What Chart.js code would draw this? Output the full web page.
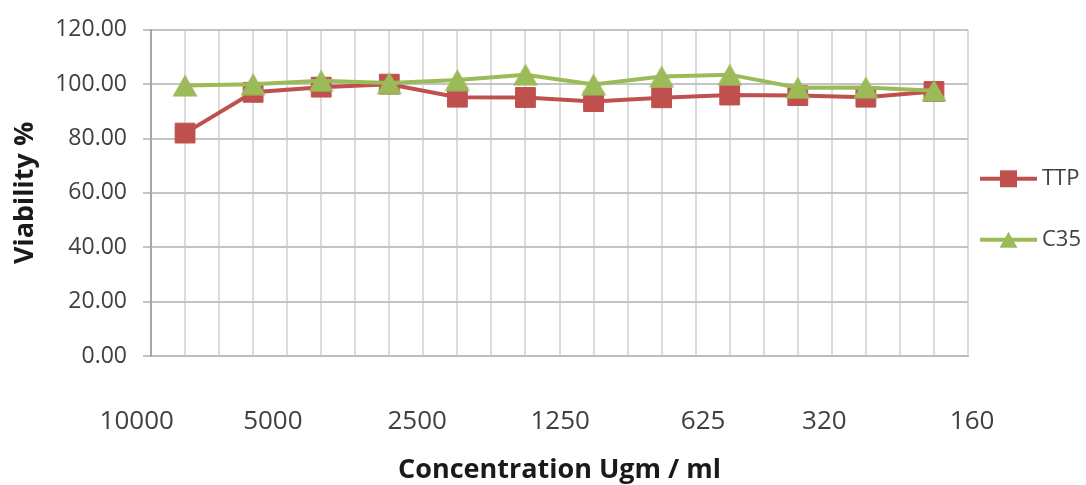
<!DOCTYPE html>
<html>
<head>
<meta charset="utf-8">
<script src="https://cdn.jsdelivr.net/npm/chart.js@4.4.1/dist/chart.umd.min.js"></script>
<style>
  html, body { margin: 0; padding: 0; background: #ffffff; }
  #wrap { width: 1086px; height: 485px; }
</style>
</head>
<body>
<div id="wrap"><canvas id="c" width="1086" height="485"></canvas></div>
<script>
// ---- data ----
const seriesNames = ['TTP', 'C35'];
const ttpValues = [82.0, 97.0, 98.9, 100.0, 95.2, 95.1, 93.6, 95.0, 96.0, 95.8, 95.2, 97.3];
const c35Values = [99.5, 100.0, 101.3, 100.4, 101.5, 103.5, 99.9, 102.8, 103.5, 98.7, 98.8, 97.6];
const xTickLabels = ['10000', '5000', '2500', '1250', '625', '320', '160'];
const xTickValues = [-0.71, 1.29, 3.41, 5.51, 7.61, 9.39, 11.56];
const yTitle = 'Viability %';
const xTitle = 'Concentration Ugm / ml';

// ---- styles ----
const RED = '#C0504D';
const GREEN = '#9BBB59';
const FONT = 'Open Sans';

function makeTriangle(w, h, color) {
  const cv = document.createElement('canvas');
  cv.width = w; cv.height = h;
  const c = cv.getContext('2d');
  c.fillStyle = color;
  c.beginPath();
  c.moveTo(w / 2, 0.5);
  c.lineTo(w - 0.5, h - 0.5);
  c.lineTo(0.5, h - 0.5);
  c.closePath();
  c.fill();
  return cv;
}
const triMarker = makeTriangle(26, 23, GREEN);

const toPoints = arr => arr.map((v, i) => ({ x: i, y: v }));

const sideLegend = {
  id: 'sideLegend',
  afterDraw(chart) {
    const { ctx, chartArea } = chart;
    const x0 = chartArea.right + 12, x1 = chartArea.right + 69, xm = (x0 + x1) / 2;
    const rows = [
      { name: seriesNames[0], color: RED, marker: 'rect' },
      { name: seriesNames[1], color: GREEN, marker: 'tri' }
    ];
    rows.forEach((r, i) => {
      const y = chartArea.top + 149 + i * 61;
      ctx.save();
      ctx.strokeStyle = r.color;
      ctx.fillStyle = r.color;
      ctx.lineWidth = 4;
      ctx.beginPath();
      ctx.moveTo(x0, y); ctx.lineTo(x1, y);
      ctx.stroke();
      ctx.beginPath();
      if (r.marker === 'rect') {
        ctx.rect(xm - 8.5, y - 8.5, 17, 17);
      } else {
        ctx.moveTo(xm, y - 8);
        ctx.lineTo(xm + 9, y + 8);
        ctx.lineTo(xm - 9, y + 8);
        ctx.closePath();
      }
      ctx.fill();
      ctx.fillStyle = '#404040';
      ctx.font = '22px "' + FONT + '"';
      ctx.textBaseline = 'middle';
      ctx.textAlign = 'left';
      ctx.fillText(r.name, x1 + 5, y);
      ctx.restore();
    });
  }
};

new Chart(document.getElementById('c'), {
  type: 'line',
  data: {
    datasets: [
      {
        label: seriesNames[0],
        data: toPoints(ttpValues),
        borderColor: RED,
        backgroundColor: RED,
        borderWidth: 4,
        pointStyle: 'rect',
        pointRadius: 14,
        pointBorderWidth: 1,
        pointBackgroundColor: RED,
        pointBorderColor: RED,
        tension: 0,
        order: 1
      },
      {
        label: seriesNames[1],
        data: toPoints(c35Values),
        borderColor: GREEN,
        backgroundColor: GREEN,
        borderWidth: 4,
        pointStyle: triMarker,
        pointRadius: 13,
        tension: 0,
        order: 0
      }
    ]
  },
  options: {
    responsive: false,
    animation: false,
    devicePixelRatio: 1,
    layout: { padding: { top: 25, right: 118, bottom: 0, left: 0 } },
    plugins: {
      legend: { display: false },
      tooltip: { enabled: false }
    },
    scales: {
      xg: {
        type: 'linear',
        position: 'bottom',
        weight: 0,
        min: -0.5,
        max: 11.5,
        ticks: { display: false, stepSize: 0.5 },
        grid: { color: '#dcdcdc', lineWidth: 2, drawTicks: false },
        border: { display: true, color: '#bdbdbd', width: 2 },
        afterFit(s) { s.height = 0; }
      },
      x: {
        type: 'linear',
        position: 'bottom',
        weight: 1,
        min: -0.5,
        max: 11.5,
        afterBuildTicks(s) { s.ticks = xTickValues.map(v => ({ value: v })); },
        ticks: {
          autoSkip: false,
          maxRotation: 0,
          minRotation: 0,
          padding: 50,
          color: '#404040',
          font: { family: FONT, size: 26 },
          callback: (v, i) => xTickLabels[i]
        },
        grid: { display: false, drawTicks: false },
        border: { display: false },
        title: {
          display: true,
          text: xTitle,
          color: '#1a1a1a',
          font: { family: FONT, size: 27, weight: 'bold' },
          padding: { top: 0, bottom: -2 }
        },
        afterFit(s) { s.height = 129; }
      },
      y: {
        min: 0,
        max: 120,
        ticks: {
          stepSize: 20,
          padding: 16,
          color: '#404040',
          font: { family: FONT, size: 23 },
          callback: v => Number(v).toFixed(2)
        },
        grid: { color: '#c4c4c4', lineWidth: 2, tickLength: 8, tickColor: '#c4c4c4' },
        border: { display: true, color: '#a6a6a6', width: 2 },
        title: {
          display: true,
          text: yTitle,
          color: '#1a1a1a',
          font: { family: FONT, size: 27, weight: 'bold' },
          padding: { top: 9, bottom: 0 }
        },
        afterFit(s) { s.width = 151; }
      }
    }
  },
  plugins: [sideLegend]
});
</script>
</body>
</html>
